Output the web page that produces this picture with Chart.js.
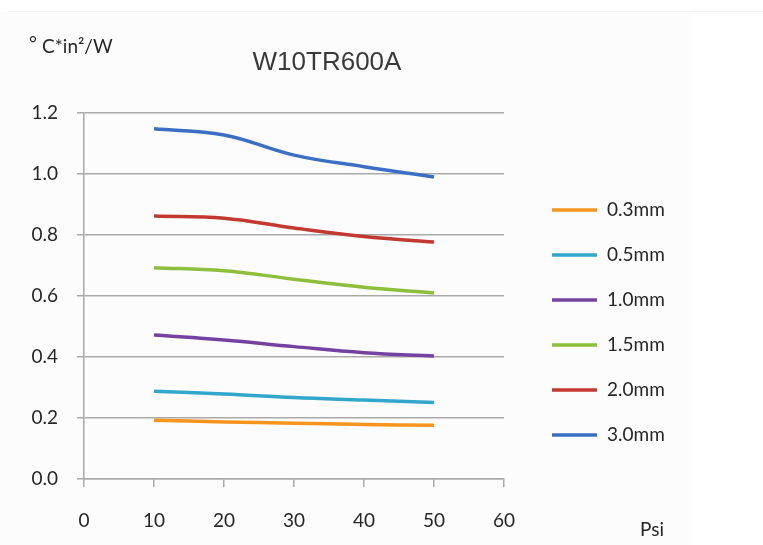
<!DOCTYPE html>
<html>
<head>
<meta charset="utf-8">
<script src="https://cdn.jsdelivr.net/npm/chart.js@4.4.1/dist/chart.umd.min.js"></script>
<style>
  body { margin: 0; background: #fff; }
  #wrap { width: 763px; height: 545px; position: relative; }
</style>
</head>
<body>
<div id="wrap"><canvas id="chart"></canvas></div>
<script>
// x : Psi
const psi = [10, 20, 30, 40, 50];

// y : ° C*in²/W
const t03 = [0.193, 0.187, 0.183, 0.179, 0.176];
const t05 = [0.288, 0.279, 0.267, 0.259, 0.251];
const t10 = [0.472, 0.456, 0.434, 0.414, 0.403];
const t15 = [0.693, 0.683, 0.655, 0.629, 0.61];
const t20 = [0.862, 0.855, 0.823, 0.795, 0.777];
const t30 = [1.148, 1.128, 1.062, 1.024, 0.99];

const seriesNames = ["0.3mm", "0.5mm", "1.0mm", "1.5mm", "2.0mm", "3.0mm"];
const seriesValues = [t03, t05, t10, t15, t20, t30];
const seriesColors = ["#f7941d", "#31a7cb", "#7443a1", "#8dbf3d", "#c1392f", "#3a6fc5"];

const xTicks = [0, 10, 20, 30, 40, 50, 60];
const yTicks = [0, 0.2, 0.4, 0.6, 0.8, 1.0, 1.2];

const chartTitle = "W10TR600A";
const unitLabel = "C*in²/W";
const xLabel = "Psi";

const textFont = "Lato, 'Open Sans', sans-serif";
const textColor = "#262626";
const gridColor = "#a9a9a9";

const datasets = seriesNames.map((name, i) => ({
  label: name,
  data: psi.map((p, j) => ({ x: p, y: seriesValues[i][j] })),
  borderColor: seriesColors[i],
  backgroundColor: seriesColors[i],
  borderWidth: 3.5,
  pointRadius: 0,
  tension: 0.4,
  fill: false,
}));

// 배경, 제목, 단위, 범례
const extras = {
  id: "extras",
  beforeDraw(chart) {
    const ctx = chart.ctx;
    ctx.save();
    ctx.fillStyle = "#fcfcfc";
    ctx.fillRect(0, 12, 690, 533);
    ctx.strokeStyle = "#eeeeee";
    ctx.lineWidth = 1;
    ctx.beginPath();
    ctx.moveTo(8, 11.5);
    ctx.lineTo(763, 11.5);
    ctx.stroke();
    ctx.restore();
  },
  afterDraw(chart) {
    const ctx = chart.ctx;
    ctx.save();
    ctx.fillStyle = textColor;
    ctx.textBaseline = "middle";

    ctx.font = "26px 'Liberation Sans', Arial, sans-serif";
    ctx.fillStyle = "#3a3a3a";
    ctx.textAlign = "center";
    ctx.fillText(chartTitle, 327, 63);

    ctx.fillStyle = textColor;
    ctx.font = "19px " + textFont;
    ctx.textAlign = "left";
    ctx.fillText("°", 29, 44);
    ctx.fillText(unitLabel, 42, 47);

    ctx.textAlign = "center";
    ctx.fillText(xLabel, 652, 530);

    // 범례
    ctx.textAlign = "left";
    chart.data.datasets.forEach((ds, i) => {
      const y = 210 + i * 45;
      ctx.strokeStyle = ds.borderColor;
      ctx.lineWidth = 3.5;
      ctx.beginPath();
      ctx.moveTo(552, y);
      ctx.lineTo(597, y);
      ctx.stroke();
      ctx.fillStyle = textColor;
      ctx.fillText(ds.label, 607, y);
    });
    ctx.restore();
  },
};

new Chart(document.getElementById("chart"), {
  type: "line",
  data: { datasets: datasets },
  plugins: [extras],
  options: {
    responsive: true,
    maintainAspectRatio: false,
    animation: false,
    layout: { padding: { left: 0, top: 113, right: 259, bottom: 0 } },
    plugins: {
      legend: { display: false },
      tooltip: { enabled: false },
    },
    scales: {
      x: {
        type: "linear",
        min: xTicks[0],
        max: xTicks[xTicks.length - 1],
        afterBuildTicks: (axis) => {
          axis.ticks = xTicks.map((v) => ({ value: v }));
        },
        afterFit: (axis) => {
          axis.height = 66;
        },
        ticks: {
          color: textColor,
          font: { family: textFont, size: 19 },
          padding: 22,
          maxRotation: 0,
        },
        grid: {
          drawOnChartArea: false,
          color: gridColor,
          lineWidth: 1.5,
          tickLength: 8,
        },
        border: { color: gridColor, width: 1.5 },
      },
      y: {
        min: yTicks[0],
        max: yTicks[yTicks.length - 1],
        afterBuildTicks: (axis) => {
          axis.ticks = yTicks.map((v) => ({ value: v }));
        },
        afterFit: (axis) => {
          axis.width = 84;
        },
        ticks: {
          color: textColor,
          font: { family: textFont, size: 19 },
          padding: 19,
          callback: (v) => Number(v).toFixed(1),
        },
        grid: {
          color: gridColor,
          lineWidth: 1.5,
          tickLength: 7,
        },
        border: { color: gridColor, width: 1.5 },
      },
    },
  },
});
</script>
</body>
</html>
